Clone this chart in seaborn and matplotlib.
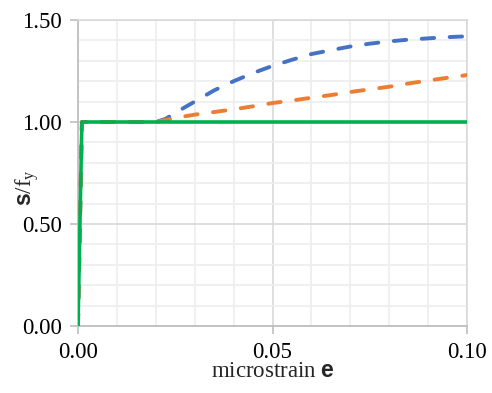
import matplotlib.pyplot as plt
import seaborn as sns
import pandas as pd
from matplotlib.ticker import MultipleLocator

# strain points and normalised stress for the three steel models
strain = [0, 0.001, 0.02, 0.0225, 0.025, 0.03, 0.035, 0.04, 0.045, 0.05,
          0.055, 0.06, 0.065, 0.07, 0.075, 0.08, 0.085, 0.09, 0.095, 0.10]
blue_vals = [0, 1.0, 1.0, 1.015, 1.045, 1.10, 1.155, 1.20, 1.24, 1.275,
             1.305, 1.333, 1.352, 1.37, 1.384, 1.395, 1.404, 1.41, 1.416, 1.42]
orange_vals = [0, 1.0, 1.0, 1.01, 1.02, 1.036, 1.049, 1.062, 1.077, 1.093,
               1.105, 1.119, 1.132, 1.147, 1.16, 1.173, 1.189, 1.203, 1.217, 1.23]
green_vals = [0] + [1.0] * 19

x_ticks = [0.0, 0.05, 0.10]
x_ticklabels = ["0.00", "0.05", "0.10"]
y_ticks = [0.0, 0.5, 1.0, 1.5]
y_ticklabels = ["0.00", "0.50", "1.00", "1.50"]

sns.set_theme(style="white")
plt.rcParams['font.family'] = ['Liberation Serif', 'DejaVu Serif']
plt.rcParams['mathtext.fontset'] = 'custom'
plt.rcParams['mathtext.rm'] = 'Liberation Serif'
plt.rcParams['mathtext.it'] = 'Liberation Serif:italic'
plt.rcParams['mathtext.bf'] = 'Liberation Sans:bold'

df = pd.DataFrame({'strain': strain, 'blue': blue_vals,
                   'orange': orange_vals, 'green': green_vals})

fig = plt.figure(figsize=(4.92, 3.93), dpi=100)
ax = fig.add_axes([78 / 492, 1 - 326 / 393, 389 / 492, 306 / 393])

lw = 2.8
dash = (3.2, 4.0)
sns.lineplot(data=df, x='strain', y='blue', ax=ax, color='#4472C4', lw=lw,
             zorder=3).lines[-1].set(dashes=dash, dash_capstyle='round')
sns.lineplot(data=df, x='strain', y='orange', ax=ax, color='#ED7D31', lw=lw,
             zorder=4).lines[-1].set(dashes=dash, dash_capstyle='round')
sns.lineplot(data=df, x='strain', y='green', ax=ax, color='#00B050', lw=2.6, zorder=5)

ax.set_xlim(0, 0.10)
ax.set_ylim(0, 1.5)
ax.xaxis.set_minor_locator(MultipleLocator(0.01))
ax.yaxis.set_minor_locator(MultipleLocator(0.1))
ax.set_xticks(x_ticks)
ax.set_xticklabels(x_ticklabels)
ax.set_yticks(y_ticks)
ax.set_yticklabels(y_ticklabels)

ax.grid(which='major', color='#d9d9d9', lw=1.2, zorder=1)
ax.grid(which='minor', color='#eeeeee', lw=1.2, zorder=0)
ax.set_axisbelow(True)

for s in ['top', 'right']:
    ax.spines[s].set_color('#d9d9d9')
    ax.spines[s].set_linewidth(1.2)
for s in ['left', 'bottom']:
    ax.spines[s].set_color('#bfbfbf')
    ax.spines[s].set_linewidth(1.3)

ax.tick_params(which='major', direction='out', length=5.5, width=1.2,
               color='#bfbfbf', labelsize=16.5, pad=6, labelcolor='black',
               bottom=True, left=True)
ax.tick_params(which='minor', length=0)

ax.set_xlabel(r"microstrain $\mathbf{e}$", fontsize=16.5)
ax.set_ylabel(r"$\mathbf{s}\mathrm{/f}_\mathrm{y}$", fontsize=16.5)
ax.xaxis.set_label_coords(0.5, -0.15)
ax.xaxis.label.set_va('center')
ax.yaxis.set_label_coords(-0.131, 0.454)
ax.yaxis.label.set_va('center')

fig.savefig('out.png', dpi=100)
